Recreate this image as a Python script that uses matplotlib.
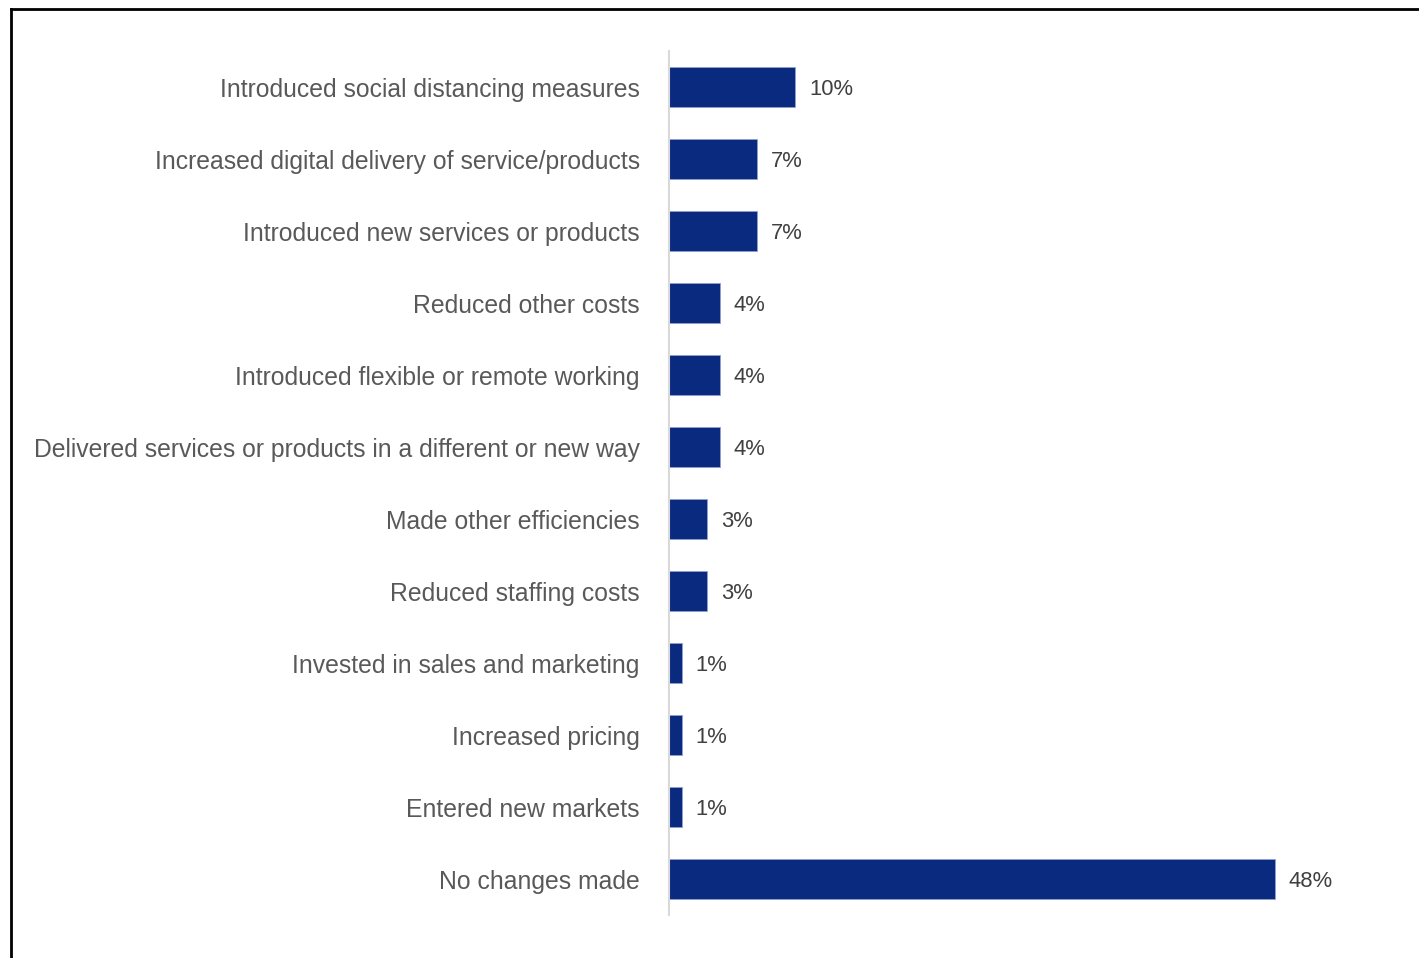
import matplotlib.pyplot as plt
from matplotlib.lines import Line2D

categories = [
    'Introduced social distancing measures',
    'Increased digital delivery of service/products',
    'Introduced new services or products',
    'Reduced other costs',
    'Introduced flexible or remote working',
    'Delivered services or products in a different or new way',
    'Made other efficiencies',
    'Reduced staffing costs',
    'Invested in sales and marketing',
    'Increased pricing',
    'Entered new markets',
    'No changes made',
]
values = [10, 7, 7, 4, 4, 4, 3, 3, 1, 1, 1, 48]

W, H = 1419, 958
fig = plt.figure(figsize=(W / 100, H / 100), dpi=100)
plt.rcParams['font.family'] = ['Liberation Sans', 'DejaVu Sans']

# axes placed so the category axis sits at x=669px
left, right = 669, 669 + 50 * 12.625
top, bottom = 51, 915
ax = fig.add_axes([left / W, 1 - bottom / H, (right - left) / W, (bottom - top) / H])

y = list(range(len(categories)))
ax.barh(y, values, height=0.56, color='#0A2A80', edgecolor='#8FA0CC', linewidth=0.6)
ax.set_xlim(0, 50)
ax.set_ylim(len(categories) - 0.5, -0.5)

ax.set_yticks(y)
ax.set_yticklabels(categories, fontsize=17.8, color='#595959')
ax.tick_params(axis='y', length=0, pad=21)
ax.set_xticks([])

for s in ['top', 'right', 'bottom']:
    ax.spines[s].set_visible(False)
ax.spines['left'].set_color('#D9D9D9')
ax.spines['left'].set_linewidth(1.5)

for yi, v in zip(y, values):
    ax.annotate(f'{v}%', (v, yi), xytext=(10, -1.5), textcoords='offset points',
                va='center', ha='left', fontsize=15.8, color='#404040')

# frame lines along the top and left edges
fig.add_artist(Line2D([11 / W, 1], [1 - 9 / H, 1 - 9 / H], transform=fig.transFigure,
                      color='black', linewidth=2))
fig.add_artist(Line2D([11 / W, 11 / W], [0, 1 - 9 / H], transform=fig.transFigure,
                      color='black', linewidth=2))

fig.savefig('out.png', dpi=100)
